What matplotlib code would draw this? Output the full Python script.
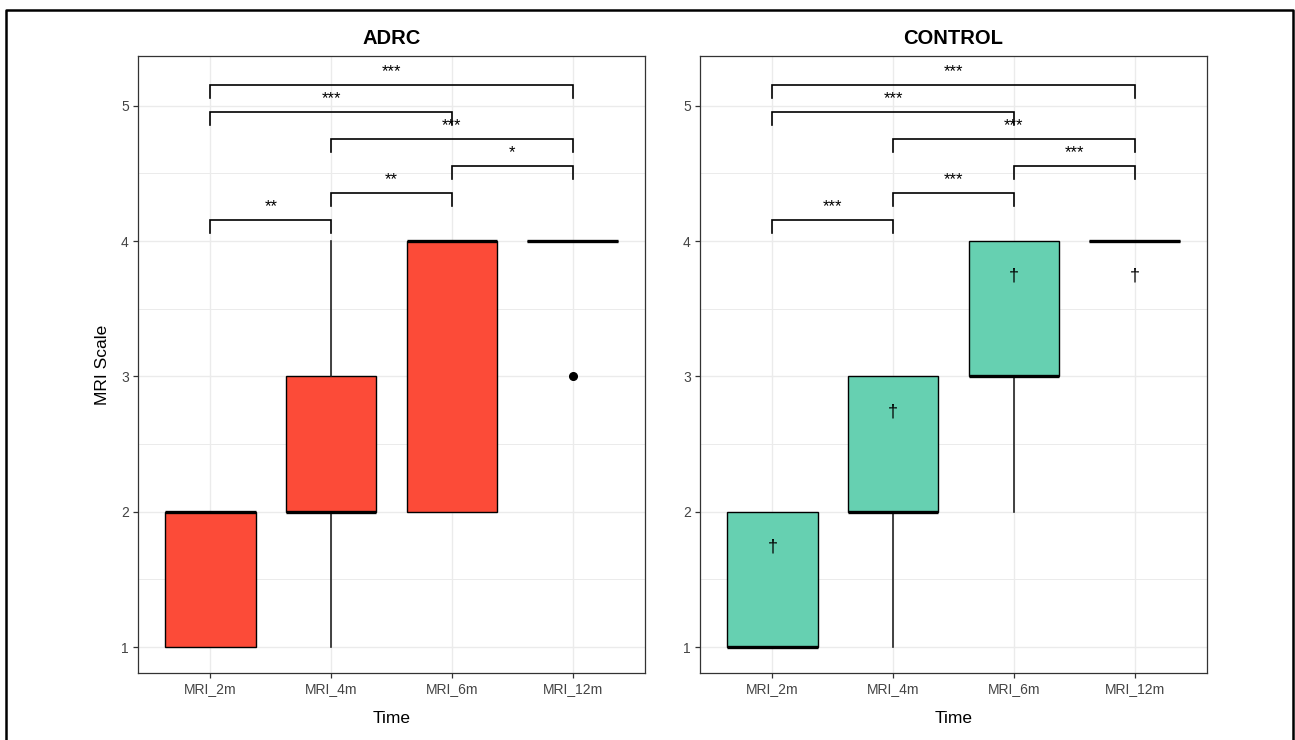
import matplotlib.pyplot as plt
from matplotlib.lines import Line2D

plt.rcParams['font.family'] = ['Liberation Sans', 'DejaVu Sans']

times = ['MRI_2m', 'MRI_4m', 'MRI_6m', 'MRI_12m']

# box statistics
adrc_q1 = [1, 2, 2, 4]
adrc_med = [2, 2, 4, 4]
adrc_q3 = [2, 3, 4, 4]
adrc_lo = [1, 1, 2, 4]
adrc_hi = [2, 4, 4, 4]
adrc_fliers = [[], [], [], [3]]

ctrl_q1 = [1, 2, 3, 4]
ctrl_med = [1, 2, 3, 4]
ctrl_q3 = [2, 3, 4, 4]
ctrl_lo = [1, 1, 2, 4]
ctrl_hi = [2, 3, 4, 4]
ctrl_fliers = [[], [], [], []]

# pairwise comparisons (category index pairs), bracket heights and labels
pairs = [(0, 1), (1, 2), (2, 3), (1, 3), (0, 2), (0, 3)]
bracket_y = [4.155, 4.355, 4.555, 4.755, 4.955, 5.155]
adrc_sig = ['**', '**', '*', '***', '***', '***']
ctrl_sig = ['***', '***', '***', '***', '***', '***']

ctrl_dagger_y = [1.74, 2.74, 3.74, 3.74]

adrc_color = '#FC4B38'
ctrl_color = '#66D0B1'


def make_stats(q1, med, q3, lo, hi, fliers):
    out = []
    for i in range(len(q1)):
        out.append(dict(q1=q1[i], med=med[i], q3=q3[i], whislo=lo[i],
                        whishi=hi[i], fliers=fliers[i], label=times[i]))
    return out


def draw_panel(ax, stats, color, title, sig):
    pos = list(range(1, len(times) + 1))
    ax.bxp(stats, positions=pos, widths=0.75, patch_artist=True,
           showcaps=False, zorder=3,
           boxprops=dict(facecolor=color, edgecolor='black', linewidth=1.0),
           medianprops=dict(color='black', linewidth=2.4, solid_capstyle='butt'),
           whiskerprops=dict(color='#222222', linewidth=1.2),
           flierprops=dict(marker='o', markerfacecolor='black',
                           markeredgecolor='black', markersize=5.5))
    # significance brackets
    tip = 0.095
    for (a, b), y, lab in zip(pairs, bracket_y, sig):
        xa, xb = pos[a], pos[b]
        ax.plot([xa, xa, xb, xb], [y - tip, y, y, y - tip], color='black',
                lw=1.2, zorder=4, solid_joinstyle='miter')
        ax.text((xa + xb) / 2, y + 0.065, lab, ha='center', va='baseline',
                fontsize=12, color='black', zorder=5)

    ax.set_xlim(0.4, 4.6)
    ax.set_ylim(0.808, 5.367)
    ax.set_xticks(pos)
    ax.set_xticklabels(times)
    ax.set_yticks([1, 2, 3, 4, 5])
    ax.set_yticks([1.5, 2.5, 3.5, 4.5], minor=True)
    ax.grid(which='major', color='#EBEBEB', lw=1.0, zorder=0)
    ax.grid(which='minor', axis='y', color='#EBEBEB', lw=0.7, zorder=0)
    ax.set_axisbelow(True)
    ax.tick_params(which='major', direction='out', length=3.6, width=0.9,
                   color='#333333', labelcolor='#444444', labelsize=10, pad=3)
    ax.tick_params(which='minor', length=0)
    for s in ax.spines.values():
        s.set_color('#333333')
        s.set_linewidth(0.9)
    ax.set_title(title, fontsize=14.5, fontweight='bold', pad=8.6)
    ax.set_xlabel('Time', fontsize=12.5, labelpad=11)


fig = plt.figure(figsize=(12.95, 7.40), dpi=100)
ax1 = fig.add_axes([138 / 1295, 1 - 673 / 740, 507 / 1295, 617 / 740])
ax2 = fig.add_axes([700 / 1295, 1 - 673 / 740, 507 / 1295, 617 / 740])

draw_panel(ax1, make_stats(adrc_q1, adrc_med, adrc_q3, adrc_lo, adrc_hi, adrc_fliers),
           adrc_color, 'ADRC', adrc_sig)
draw_panel(ax2, make_stats(ctrl_q1, ctrl_med, ctrl_q3, ctrl_lo, ctrl_hi, ctrl_fliers),
           ctrl_color, 'CONTROL', ctrl_sig)
ax1.set_ylabel('MRI Scale', fontsize=12.5, labelpad=8)

for i, y in enumerate(ctrl_dagger_y):
    ax2.text(i + 1, y, '\u2020', ha='center', va='center', fontsize=13,
             color='black', zorder=6)

# outer frame of the figure (open at the bottom)
fig.add_artist(Line2D([6 / 1295, 6 / 1295, 1293 / 1295, 1293 / 1295],
                      [0, 1 - 9.5 / 740, 1 - 9.5 / 740, 0],
                      transform=fig.transFigure, color='black', lw=1.8))

fig.savefig('out.png', dpi=100)
